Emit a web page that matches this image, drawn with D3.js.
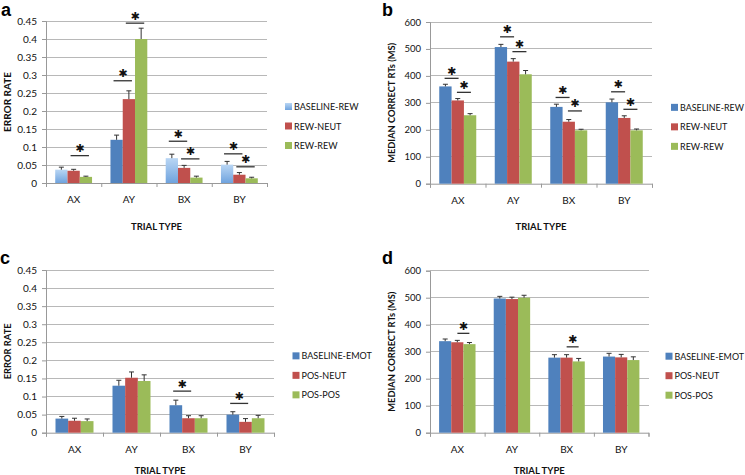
<!DOCTYPE html>
<html><head><meta charset="utf-8">
<script src="https://cdn.jsdelivr.net/npm/d3@7"></script>
<style>
html,body{margin:0;padding:0;background:#fff;}
svg{display:block;font-family:Lato,"Open Sans",sans-serif;}
</style></head>
<body>
<svg id="chart" width="745" height="475"></svg>
<script>
// ---------- DATA ----------
const categories = ["AX", "AY", "BX", "BY"];
const yTicksError = [0, 0.05, 0.1, 0.15, 0.2, 0.25, 0.3, 0.35, 0.4, 0.45];
const yTicksRT = [0, 100, 200, 300, 400, 500, 600];

// Panel a – error rate, reward
const seriesA = ["BASELINE-REW", "REW-NEUT", "REW-REW"];
const a_baselineRew = [0.037, 0.120, 0.069, 0.051];
const a_rewNeut     = [0.034, 0.233, 0.042, 0.023];
const a_rewRew      = [0.017, 0.400, 0.015, 0.013];
const a_errBaselineRew = [0.007, 0.013, 0.011, 0.009];
const a_errRewNeut     = [0.004, 0.023, 0.007, 0.006];
const a_errRewRew      = [0.002, 0.030, 0.004, 0.003];
// significance: [category, seriesFrom, seriesTo, height]
const sigA = [["AX",1,2,0.076],["AY",0,1,0.284],["AY",1,2,0.444],["BX",0,1,0.116],["BX",1,2,0.067],["BY",0,1,0.081],["BY",1,2,0.045]];

// Panel b – median correct RTs, reward
const b_baselineRew = [361, 507, 285, 302];
const b_rewNeut     = [309, 453, 230, 244];
const b_rewRew      = [254, 406, 198, 198];
const b_errBaselineRew = [8, 10, 10, 12];
const b_errRewNeut     = [7, 11, 8, 8];
const b_errRewRew      = [6, 14, 4, 5];
const sigB = [["AX",0,1,391],["AX",1,2,339],["AY",0,1,545],["AY",1,2,490],["BX",0,1,320],["BX",1,2,270],["BY",0,1,341],["BY",1,2,276]];

// Panel c – error rate, emotion
const seriesC = ["BASELINE-EMOT", "POS-NEUT", "POS-POS"];
const c_baselineEmot = [0.039, 0.130, 0.076, 0.050];
const c_posNeut      = [0.033, 0.152, 0.040, 0.030];
const c_posPos       = [0.032, 0.143, 0.040, 0.040];
const c_errBaselineEmot = [0.006, 0.015, 0.014, 0.008];
const c_errPosNeut      = [0.007, 0.016, 0.007, 0.009];
const c_errPosPos       = [0.006, 0.017, 0.007, 0.008];
const sigC = [["BX",0,1,0.115],["BY",0,1,0.081]];

// Panel d – median correct RTs, emotion
const d_baselineEmot = [339, 497, 278, 282];
const d_posNeut      = [335, 495, 278, 279];
const d_posPos       = [328, 500, 264, 269];
const d_errBaselineEmot = [8, 8, 11, 12];
const d_errPosNeut      = [7, 7, 11, 11];
const d_errPosPos       = [6, 9, 11, 12];
const sigD = [["AX",1,2,368],["BX",1,2,318]];

// ---------- LAYOUT / STYLE ----------
const colors = ["#4F81BD", "#C0504D", "#9BBB59"];
const panels = [
  {letter:"a", lx:1, ly:16, left:46, right:267, top:21, bottom:183, max:0.45, ticks:yTicksError, ytitle:"ERROR RATE", ytx:7, ytLen:60, series:seriesA,
   values:[a_baselineRew,a_rewNeut,a_rewRew], errs:[a_errBaselineRew,a_errRewNeut,a_errRewRew], sig:sigA, half:9.2, gradient:true, tickFs:10, xtDy:43, legDx:18},
  {letter:"b", lx:382, ly:16, left:430, right:652, top:22, bottom:183.7, max:600, ticks:yTicksRT, ytitle:"MEDIAN CORRECT RTs (MS)", ytx:391.5, ytLen:120, series:seriesA,
   values:[b_baselineRew,b_rewNeut,b_rewRew], errs:[b_errBaselineRew,b_errRewNeut,b_errRewRew], sig:sigB, half:7, gradient:false, tickFs:9.5, xtDy:43, legDx:19},
  {letter:"c", lx:0, ly:264, left:46, right:274, top:270, bottom:432.7, max:0.45, ticks:yTicksError, ytitle:"ERROR RATE", ytx:7, ytLen:56, series:seriesC,
   values:[c_baselineEmot,c_posNeut,c_posPos], errs:[c_errBaselineEmot,c_errPosNeut,c_errPosPos], sig:sigC, half:9, gradient:false, tickFs:10, xtDy:38, legDx:18.5},
  {letter:"d", lx:382, ly:264, left:430, right:648.5, top:270.7, bottom:432.7, max:600, ticks:yTicksRT, ytitle:"MEDIAN CORRECT RTs (MS)", ytx:391.5, ytLen:120, series:seriesC,
   values:[d_baselineEmot,d_posNeut,d_posPos], errs:[d_errBaselineEmot,d_errPosNeut,d_errPosPos], sig:sigD, half:6, gradient:false, tickFs:9.5, xtDy:38, legDx:17}
];

const svg = d3.select("#chart");
const defs = svg.append("defs");
const grad = defs.append("linearGradient").attr("id","lightBlue").attr("x1",0).attr("y1",0).attr("x2",0).attr("y2",1);
grad.append("stop").attr("offset","0%").attr("stop-color","#b9d6f4");
grad.append("stop").attr("offset","100%").attr("stop-color","#6fa3de");

const fmt = v => String(+v.toFixed(2));

panels.forEach(p => {
  const g = svg.append("g");
  const y = d3.scaleLinear().domain([0, p.max]).range([p.bottom, p.top]);
  const x0 = d3.scaleBand().domain(categories).range([p.left, p.right]).paddingInner(1/3).paddingOuter(1/6);
  const x1 = d3.scaleBand().domain(d3.range(3)).range([0, x0.bandwidth()]);
  const xb = d3.scaleLinear().domain([0, categories.length]).range([p.left, p.right]);

  // gridlines
  g.append("g").selectAll("line").data(p.ticks.filter(t => t > 0)).join("line")
    .attr("x1", p.left).attr("x2", p.right).attr("y1", d => y(d)).attr("y2", d => y(d))
    .attr("stroke", "#b8b8b8").attr("stroke-width", 1).attr("shape-rendering","crispEdges");

  // y axis
  const ya = g.append("g").attr("transform", `translate(${p.left},0)`)
    .call(d3.axisLeft(y).tickValues(p.ticks).tickFormat(fmt).tickSize(4).tickPadding(5));
  ya.select(".domain").attr("stroke", "#999");
  ya.selectAll(".tick line").attr("stroke", "#999");
  ya.selectAll("text").attr("font-size", p.tickFs).attr("fill", "#111").attr("font-family","Lato");

  // x axis (boundary ticks)
  const xa = g.append("g").attr("transform", `translate(0,${p.bottom})`)
    .call(d3.axisBottom(xb).tickValues(d3.range(categories.length + 1)).tickFormat("").tickSize(4));
  xa.select(".domain").attr("stroke", "#999");
  xa.selectAll(".tick line").attr("stroke", "#999");
  const xl = g.append("g").attr("transform", `translate(0,${p.bottom})`)
    .call(d3.axisBottom(x0).tickSize(0).tickPadding(13));
  xl.select(".domain").remove();
  xl.selectAll("text").attr("font-size", 10).attr("fill", "#111").attr("font-family","Lato");

  // bars
  p.series.forEach((s, si) => {
    const grp = g.append("g");
    const rows = categories.map((c, ci) => ({c, v: p.values[si][ci], e: p.errs[si][ci]}));
    grp.selectAll("rect").data(rows).join("rect")
      .attr("x", d => x0(d.c) + x1(si)).attr("width", x1.bandwidth())
      .attr("y", d => y(d.v)).attr("height", d => y(0) - y(d.v))
      .attr("fill", d => (p.gradient && si === 0 && d.c !== "AY") ? "url(#lightBlue)" : colors[si]);
    const cxOf = d => x0(d.c) + x1(si) + x1.bandwidth()/2;
    const eb = grp.selectAll("g.eb").data(rows).join("g").attr("class","eb");
    eb.append("line").attr("x1", cxOf).attr("x2", cxOf)
      .attr("y1", d => y(d.v)).attr("y2", d => y(d.v + d.e)).attr("stroke", "#333").attr("stroke-width", 1);
    eb.append("line").attr("x1", d => cxOf(d) - 2.5).attr("x2", d => cxOf(d) + 2.5)
      .attr("y1", d => y(d.v + d.e)).attr("y2", d => y(d.v + d.e)).attr("stroke", "#333").attr("stroke-width", 1);
  });

  // significance markers
  p.sig.forEach(([c, a, b, h]) => {
    const cx = x0(c) + (x1(a) + x1(b)) / 2 + x1.bandwidth()/2;
    g.append("line").attr("x1", cx - p.half).attr("x2", cx + p.half).attr("y1", y(h)).attr("y2", y(h))
      .attr("stroke", "#333").attr("stroke-width", 1.3);
    g.append("text").attr("x", cx).attr("y", y(h) - 3.5).attr("text-anchor","middle")
      .attr("font-family","DejaVu Sans").attr("font-size", 11).attr("fill","#111").text("\u2731");
  });

  // axis titles
  g.append("text").attr("transform", `translate(${p.ytx},${(p.top + p.bottom)/2}) rotate(-90)`)
    .attr("text-anchor","middle").attr("dominant-baseline","central")
    .attr("font-size", 9.5).attr("font-weight","bold").attr("fill","#111")
    .attr("textLength", p.ytLen).attr("lengthAdjust","spacingAndGlyphs").text(p.ytitle);
  g.append("text").attr("x", (p.left + p.right)/2).attr("y", p.bottom + p.xtDy)
    .attr("text-anchor","middle").attr("dominant-baseline","central")
    .attr("font-size", 9.5).attr("font-weight","bold").attr("fill","#111").text("TRIAL TYPE");

  // panel letter
  g.append("text").attr("x", p.lx).attr("y", p.ly).attr("font-family","Liberation Sans")
    .attr("font-weight","bold").attr("font-size", 18).attr("fill","#000").text(p.letter);

  // legend
  const midY = (p.top + p.bottom)/2 + 24;
  const lg = g.append("g").selectAll("g").data(p.series).join("g")
    .attr("transform", (d, i) => `translate(${p.right + p.legDx},${midY + (i - 1) * 19.5})`);
  lg.append("rect").attr("x", 0).attr("y", -3.5).attr("width", 7).attr("height", 7)
    .attr("fill", (d, i) => (p.gradient && i === 0) ? "url(#lightBlue)" : colors[i]);
  lg.append("text").attr("x", 9).attr("y", 0).attr("dominant-baseline","central")
    .attr("font-size", 9).attr("fill","#111").text(d => d)
    .each(function() {
      const avail = 744 - (p.right + p.legDx + 9);
      const len = this.getComputedTextLength();
      if (len > avail) d3.select(this).attr("textLength", avail).attr("lengthAdjust","spacingAndGlyphs");
    });
});
</script>
</body></html>
